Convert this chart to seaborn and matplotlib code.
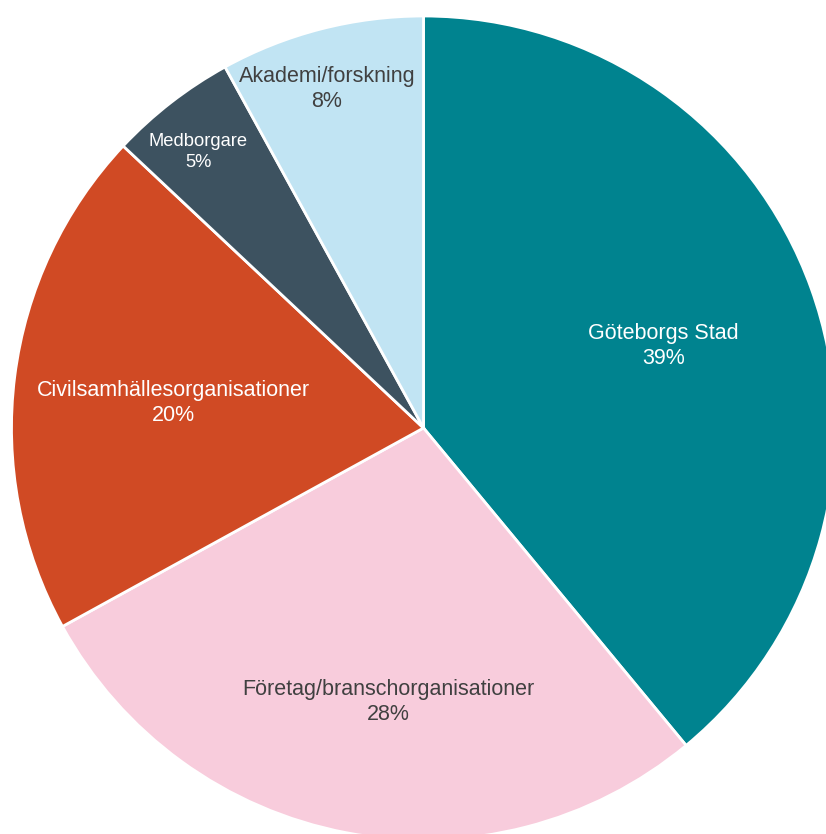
import numpy as np
import matplotlib.pyplot as plt
import seaborn as sns

# Data
categories = ['Göteborgs Stad', 'Företag/branschorganisationer', 'Civilsamhällesorganisationer',
              'Medborgare', 'Akademi/forskning']
shares = [39, 28, 20, 5, 8]

colors = ['#00838F', '#F8CCDC', '#D04A24', '#3D5260', '#C1E4F3']
text_colors = ['white', '#404040', 'white', 'white', '#404040']
# label placement: fraction of radius, angle shift from wedge middle (deg)
label_dist = [0.615, 0.671, 0.611, 0.865, 0.856]
label_shift = [-0.9, 3.4, 1.5, 1.45, 1.5]
label_size = [15.5, 15.5, 15.5, 13.2, 15.5]

sns.set_theme(style='white')
plt.rcParams['font.family'] = ['Liberation Sans', 'DejaVu Sans']

fig = plt.figure(figsize=(8.26, 8.34), dpi=100)
ax = fig.add_axes([0, 0, 1, 1])

# pie in pixel coordinates: centre (423.5, 428 from top), radius 412
cx, cy, r = 423.5, 834 - 428, 412
wedges, _ = ax.pie(shares, colors=colors, startangle=90, counterclock=False,
                   center=(cx, cy), radius=r, frame=True,
                   wedgeprops=dict(edgecolor='white', linewidth=2))

for i, w in enumerate(wedges):
    ang = np.deg2rad((w.theta1 + w.theta2) / 2 + label_shift[i])
    x = cx + label_dist[i] * r * np.cos(ang)
    y = cy + label_dist[i] * r * np.sin(ang)
    ax.text(x, y, f'{categories[i]}\n{shares[i]}%', ha='center', va='center',
            color=text_colors[i], fontsize=label_size[i], linespacing=1.25)

ax.set_xlim(0, 826)
ax.set_ylim(0, 834)
ax.set_aspect('auto')
ax.axis('off')

fig.savefig('out.png', dpi=100, facecolor='white')
